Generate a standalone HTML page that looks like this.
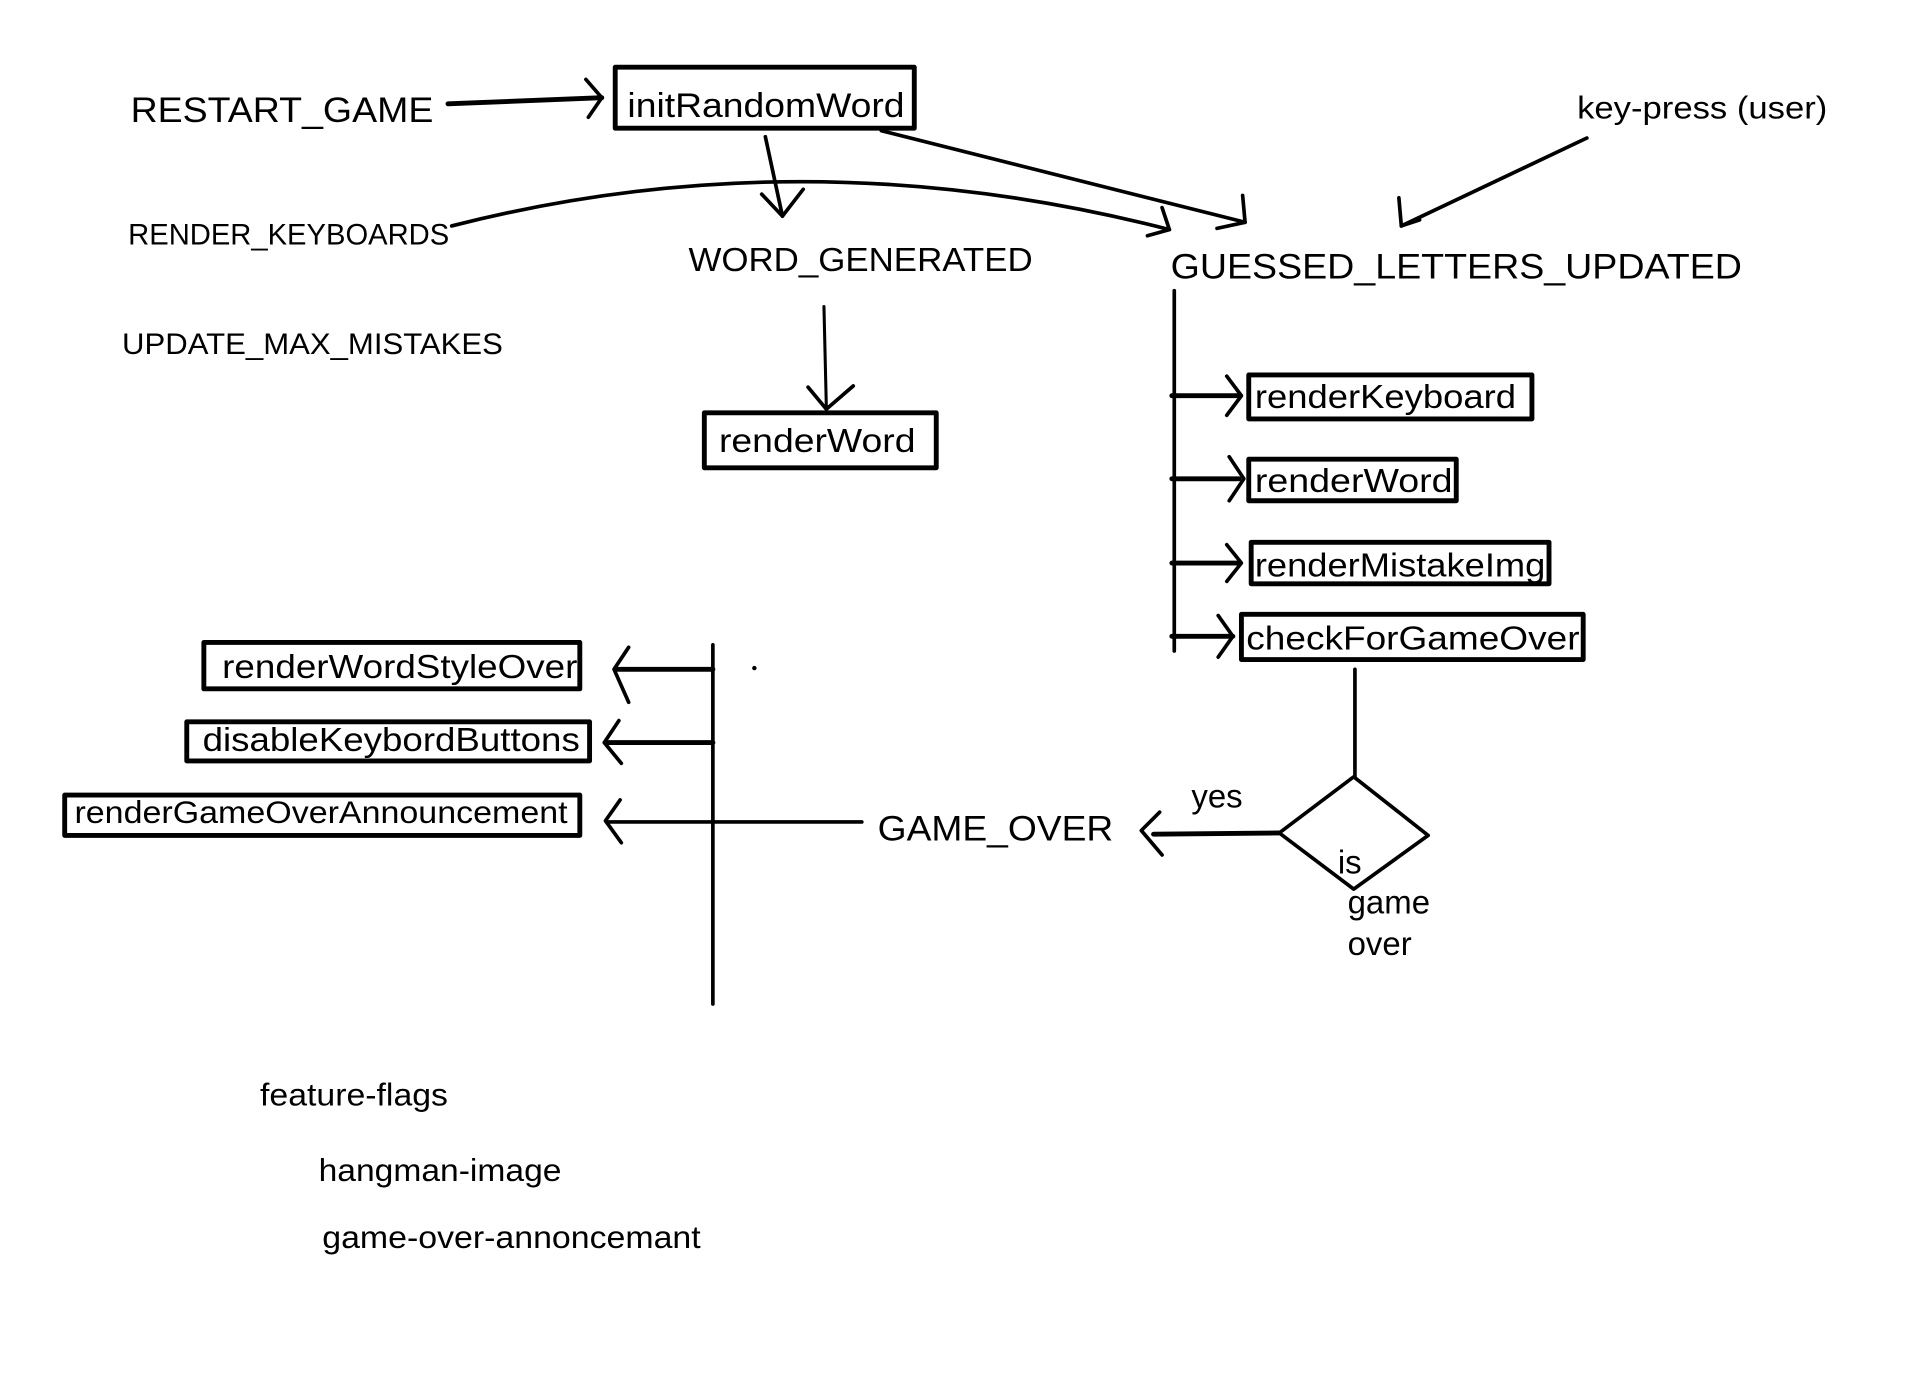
<!DOCTYPE html>
<html><head><meta charset="utf-8"><style>
html,body{margin:0;padding:0;background:#fff;}
svg{display:block;}
text{font-family:"Liberation Sans",sans-serif;fill:#000;}
</style></head><body>
<svg width="1914" height="1396" viewBox="0 0 1568 1143" preserveAspectRatio="none" xmlns="http://www.w3.org/2000/svg">
<g fill="none" stroke="#000" stroke-linecap="round" stroke-linejoin="round">
<path d="M367 85 L493 80" stroke-width="4"/>
<path d="M480 65 L493 80 L482 96" stroke-width="3"/>
<rect x="504" y="55" width="245" height="50" stroke-width="4"/>
<path d="M1300 113 L1148 185" stroke-width="3"/>
<path d="M1146 162 L1148 185 L1163 180" stroke-width="3"/>
<path d="M722 107 L1020 182" stroke-width="3"/>
<path d="M1018 160 L1020 182 L997 187" stroke-width="3"/>
<path d="M627 112 L641 177" stroke-width="3"/>
<path d="M624 159 L641 177 L658 155" stroke-width="3"/>
<path d="M370 185 Q660 111 958 188" stroke-width="3"/>
<path d="M952 170 L958 188 L940 193" stroke-width="3"/>
<path d="M675 251 L677 335" stroke-width="2.5"/>
<path d="M662 317 L677 335 L699 316" stroke-width="3"/>
<rect x="577" y="338" width="190" height="45" stroke-width="4"/>
<path d="M962 238 L962 533" stroke-width="3"/>
<path d="M960 324 L1015 324" stroke-width="4"/><path d="M1005 308 L1017 324 L1005 340" stroke-width="3"/>
<path d="M960 392 L1015 392" stroke-width="4"/><path d="M1007 374 L1019 392 L1007 410" stroke-width="3"/>
<path d="M960 461 L1015 461" stroke-width="4"/><path d="M1005 446 L1017 461 L1005 476" stroke-width="3"/>
<path d="M960 521 L1010 521" stroke-width="4"/><path d="M998 504 L1010 521 L998 538" stroke-width="3"/>
<rect x="1023" y="307" width="232" height="36" stroke-width="4"/>
<rect x="1023" y="376" width="170" height="34" stroke-width="4"/>
<rect x="1025" y="444" width="244" height="34" stroke-width="4"/>
<rect x="1017" y="503" width="280" height="37" stroke-width="4"/>
<path d="M1110 548 L1110 636" stroke-width="3"/>
<path d="M1109 636 L1170 684 L1109 728 L1048 682 Z" stroke-width="3"/>
<path d="M1048 682 L945 683" stroke-width="4"/>
<path d="M950 665 L935 680 L952 700" stroke-width="3"/>
<path d="M584 528 L584 822" stroke-width="3"/>
<path d="M706 673 L497 673" stroke-width="3"/>
<path d="M584 548 L505 548" stroke-width="4"/><path d="M515 530 L503 548 L515 575" stroke-width="3"/>
<path d="M584 608 L497 608" stroke-width="4"/><path d="M507 590 L495 608 L509 625" stroke-width="3"/>
<path d="M508 655 L496 672 L509 690" stroke-width="3"/>
<rect x="167" y="526" width="308" height="38" stroke-width="4"/>
<rect x="153" y="591" width="330" height="32" stroke-width="4"/>
<rect x="53" y="651" width="422" height="33" stroke-width="4"/>
</g>
<circle cx="618" cy="547" r="1.8" fill="#000"/>
<text x="107" y="100" font-size="29" textLength="248" lengthAdjust="spacingAndGlyphs">RESTART_GAME</text>
<text x="514" y="96" font-size="28" textLength="227" lengthAdjust="spacingAndGlyphs">initRandomWord</text>
<text x="1292" y="97" font-size="26" textLength="205" lengthAdjust="spacingAndGlyphs">key-press (user)</text>
<text x="105" y="200" font-size="24" textLength="263" lengthAdjust="spacingAndGlyphs">RENDER_KEYBOARDS</text>
<text x="564" y="222" font-size="27" textLength="282" lengthAdjust="spacingAndGlyphs">WORD_GENERATED</text>
<text x="959" y="228" font-size="29" textLength="468" lengthAdjust="spacingAndGlyphs">GUESSED_LETTERS_UPDATED</text>
<text x="100" y="290" font-size="24" textLength="312" lengthAdjust="spacingAndGlyphs">UPDATE_MAX_MISTAKES</text>
<text x="589" y="370" font-size="27" textLength="161" lengthAdjust="spacingAndGlyphs">renderWord</text>
<text x="1028" y="334" font-size="27" textLength="214" lengthAdjust="spacingAndGlyphs">renderKeyboard</text>
<text x="1028" y="403" font-size="27" textLength="162" lengthAdjust="spacingAndGlyphs">renderWord</text>
<text x="1028" y="472" font-size="27" textLength="238" lengthAdjust="spacingAndGlyphs">renderMistakeImg</text>
<text x="1021" y="532" font-size="27" textLength="273" lengthAdjust="spacingAndGlyphs">checkForGameOver</text>
<text x="182" y="555" font-size="27" textLength="291" lengthAdjust="spacingAndGlyphs">renderWordStyleOver</text>
<text x="166" y="615" font-size="27" textLength="309" lengthAdjust="spacingAndGlyphs">disableKeybordButtons</text>
<text x="61" y="674" font-size="26" textLength="404" lengthAdjust="spacingAndGlyphs">renderGameOverAnnouncement</text>
<text x="719" y="688" font-size="29" textLength="193" lengthAdjust="spacingAndGlyphs">GAME_OVER</text>
<text x="976" y="661" font-size="27">yes</text>
<text x="1096" y="715" font-size="27">is</text>
<text x="1104" y="748" font-size="27">game</text>
<text x="1104" y="782" font-size="27">over</text>
<text x="213" y="905" font-size="26" textLength="154" lengthAdjust="spacingAndGlyphs">feature-flags</text>
<text x="261" y="967" font-size="26" textLength="199" lengthAdjust="spacingAndGlyphs">hangman-image</text>
<text x="264" y="1022" font-size="26" textLength="310" lengthAdjust="spacingAndGlyphs">game-over-annoncemant</text>
</svg>
</body></html>
